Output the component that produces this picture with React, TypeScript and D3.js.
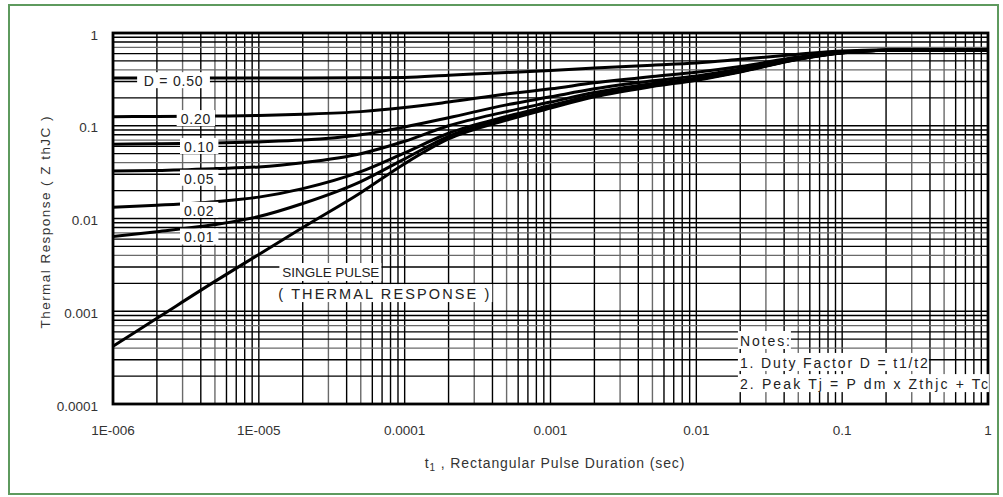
import React from "react";
import * as d3 from "d3";

// pulse durations (sec) where the curves were read
const T = [1e-6, 2e-6, 5e-6, 1e-5, 2e-5, 5e-5, 1e-4, 2e-4, 5e-4, 1e-3, 2e-3, 5e-3, 1e-2, 2e-2, 5e-2, 0.1, 0.2, 0.5, 1];

const SINGLE = [0.00042, 0.00084, 0.0021, 0.0041, 0.008, 0.019, 0.039, 0.072, 0.115, 0.155, 0.205, 0.265, 0.31, 0.38, 0.52, 0.61, 0.65, 0.656, 0.656];
const D001 = [0.0064, 0.0072, 0.0086, 0.0105, 0.0145, 0.025, 0.044, 0.077, 0.12, 0.16, 0.21, 0.27, 0.315, 0.385, 0.525, 0.612, 0.652, 0.656, 0.656];
const D002 = [0.0132, 0.0139, 0.0152, 0.017, 0.021, 0.032, 0.051, 0.083, 0.126, 0.165, 0.215, 0.272, 0.317, 0.385, 0.523, 0.611, 0.652, 0.656, 0.656];
const D005 = [0.0325, 0.033, 0.0345, 0.036, 0.04, 0.05, 0.068, 0.1, 0.142, 0.18, 0.228, 0.285, 0.327, 0.395, 0.527, 0.612, 0.652, 0.656, 0.656];
const D010 = [0.063, 0.064, 0.065, 0.067, 0.07, 0.08, 0.097, 0.122, 0.168, 0.205, 0.25, 0.305, 0.345, 0.41, 0.535, 0.615, 0.653, 0.656, 0.656];
const D020 = [0.125, 0.126, 0.127, 0.129, 0.133, 0.142, 0.157, 0.18, 0.22, 0.25, 0.29, 0.34, 0.378, 0.435, 0.55, 0.622, 0.654, 0.656, 0.656];
const D050 = [0.328, 0.328, 0.328, 0.328, 0.328, 0.329, 0.332, 0.35, 0.375, 0.395, 0.42, 0.45, 0.475, 0.52, 0.59, 0.64, 0.656, 0.656, 0.656];

const SERIES = [SINGLE, D001, D002, D005, D010, D020, D050];

// curve labels: text, where the label box sits (t, Z)
const LABEL_TEXT = ["D = 0.50", "0.20", "0.10", "0.05", "0.02", "0.01"];
const LABEL_T = [2.6e-6, 3.7e-6, 3.9e-6, 3.9e-6, 3.9e-6, 3.9e-6];
const LABEL_Z = [0.31, 0.121, 0.0605, 0.0275, 0.0124, 0.0064];

const X_TICKS = [1e-6, 1e-5, 1e-4, 1e-3, 1e-2, 1e-1, 1];
const X_TICK_LABELS = ["1E-006", "1E-005", "0.0001", "0.001", "0.01", "0.1", "1"];
const Y_TICKS = [1e-4, 1e-3, 1e-2, 1e-1, 1];
const Y_TICK_LABELS = ["0.0001", "0.001", "0.01", "0.1", "1"];

const NOTES = ["Notes:", "1. Duty Factor D = t1/t2", "2. Peak Tj = P dm x Zthjc + Tc"];
const NOTES_Z = [0.00049, 0.000284, 0.000168];
const NOTES_W = [50, 188, 248];

const FONT = "'Liberation Sans', Arial, sans-serif";

const W = 1003, H = 497;
const margin = { top: 33, right: 15, bottom: 93, left: 113 };

export default function App() {
  const x = d3.scaleLog().domain([1e-6, 1]).range([margin.left, W - margin.right]);
  const y = d3.scaleLog().domain([1e-4, 1]).range([H - margin.bottom, margin.top]);

  const xGrid: number[] = [];
  for (let n = -6; n < 0; n++) for (let k = 1; k <= 9; k++) xGrid.push(k * Math.pow(10, n));
  const yGrid: number[] = [];
  for (let n = -4; n < 0; n++) for (let k = 1; k <= 9; k++) yGrid.push(k * Math.pow(10, n));

  const line = d3.line<number>()
    .x((_, i) => x(T[i]))
    .y(d => y(d))
    .curve(d3.curveMonotoneX);

  const [x0, x1] = x.range();
  const [y0, y1] = y.range();

  return (
    <svg width={W} height={H} style={{ position: "absolute", left: 0, top: 0, background: "#fff" }}>
      <rect x={9} y={5} width={989} height={489} fill="#fff" stroke="#5e9a5e" strokeWidth={2} />

      {/* grid */}
      <g>
        {xGrid.map((v, i) => (
          <line key={"gx" + i} x1={x(v)} x2={x(v)} y1={y1} y2={y0}
            stroke={i % 9 === 2 || i % 9 === 4 ? "#6a6a6a" : "#000"} strokeWidth={1.4} />
        ))}
        {yGrid.map((v, i) => (
          <line key={"gy" + i} x1={x0} x2={x1} y1={y(v)} y2={y(v)}
            stroke={i % 9 === 3 || i % 9 === 6 ? "#6a6a6a" : "#000"} strokeWidth={1.4} />
        ))}
      </g>

      {/* curves */}
      {SERIES.map((s, i) => (
        <path key={"s" + i} d={line(s) || ""} fill="none" stroke="#000" strokeWidth={3} />
      ))}

      {/* frame */}
      <rect x={x0} y={y1} width={x1 - x0} height={y0 - y1} fill="none" stroke="#000" strokeWidth={2.8} />

      {/* curve labels */}
      {LABEL_TEXT.map((t, i) => {
        const cx = x(LABEL_T[i]);
        const cy = y(LABEL_Z[i]);
        const w = t.length * 8.6 + 4;
        return (
          <g key={"l" + i}>
            <rect x={cx - w / 2} y={cy - 8} width={w} height={16} fill="#fff" />
            <text x={cx} y={cy + 1} textAnchor="middle" dominantBaseline="central"
              fontFamily={FONT} fontSize={14} fill="#222" letterSpacing={0.8}>{t}</text>
          </g>
        );
      })}

      {/* single pulse label */}
      <rect x={x(1.45e-5) - 3} y={y(0.00265) - 9} width={102} height={18} fill="#fff" />
      <text x={x(1.45e-5)} y={y(0.00265) + 1} dominantBaseline="central" fontFamily={FONT} fontSize={13.5}
        fill="#222" textLength={97} lengthAdjust="spacing">SINGLE PULSE</text>
      <rect x={x(1.36e-5) - 2} y={y(0.00157) - 9} width={216} height={18} fill="#fff" />
      <text x={x(1.36e-5)} y={y(0.00157) + 1} dominantBaseline="central" fontFamily={FONT} fontSize={14.5}
        fill="#222" textLength={211} lengthAdjust="spacing">( THERMAL RESPONSE )</text>

      {/* notes */}
      {NOTES.map((t, i) => {
        const nx = x(0.0199);
        const ny = y(NOTES_Z[i]);
        return (
          <g key={"n" + i}>
            <rect x={nx - 2} y={ny - 9} width={NOTES_W[i] + 3} height={18} fill="#fff" />
            <text x={nx} y={ny + 1} dominantBaseline="central" fontFamily={FONT} fontSize={14}
              fill="#222" textLength={NOTES_W[i]} lengthAdjust="spacing">{t}</text>
          </g>
        );
      })}

      {/* y tick labels */}
      {Y_TICKS.map((v, i) => (
        <text key={"yt" + i} x={x0 - 15} y={y(v) + 2} textAnchor="end" dominantBaseline="central"
          fontFamily={FONT} fontSize={13.5} fill="#333">{Y_TICK_LABELS[i]}</text>
      ))}
      {/* x tick labels */}
      {X_TICKS.map((v, i) => (
        <text key={"xt" + i} x={x(v)} y={y0 + 26} textAnchor="middle" dominantBaseline="central"
          fontFamily={FONT} fontSize={13.5} fill="#333">{X_TICK_LABELS[i]}</text>
      ))}

      {/* axis titles */}
      <text transform={`translate(50,${(y0 + y1) / 2 + 4}) rotate(-90)`} textAnchor="middle"
        fontFamily={FONT} fontSize={13.5} fill="#333" textLength={212} lengthAdjust="spacing">Thermal Response ( Z thJC )</text>
      <text x={555} y={y0 + 59} textAnchor="middle" dominantBaseline="central" fontFamily={FONT}
        fontSize={14} fill="#333" letterSpacing={0.9}>
        t<tspan fontSize={10} dy={4}>1</tspan><tspan dy={-4}> , Rectangular Pulse Duration (sec)</tspan>
      </text>
    </svg>
  );
}
